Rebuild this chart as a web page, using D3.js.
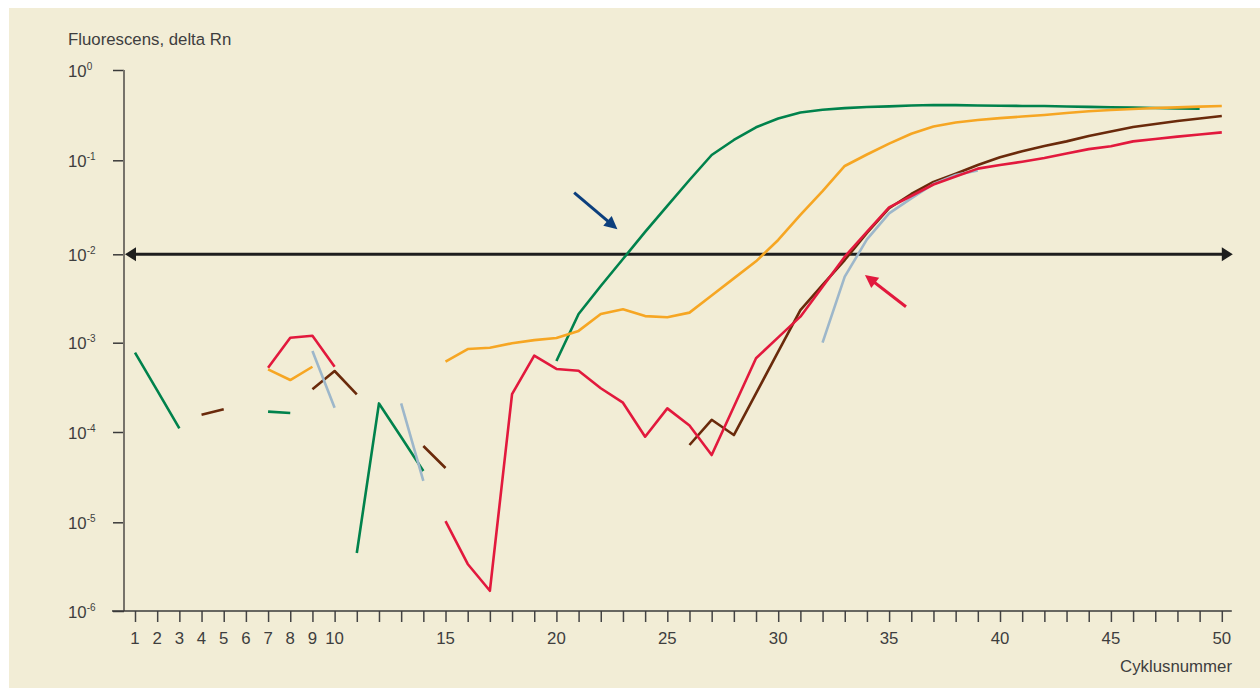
<!DOCTYPE html>
<html>
<head>
<meta charset="utf-8">
<script src="https://cdn.jsdelivr.net/npm/d3@7"></script>
<style>
  html, body { margin: 0; padding: 0; background: #ffffff; }
  svg { display: block; }
  text { font-family: "Liberation Sans", Arial, sans-serif; fill: #3e3e3e; }
</style>
</head>
<body>
<svg id="chart" width="1260" height="688"></svg>
<script>
// ---- data -------------------------------------------------------------
const cycles = d3.range(1, 51);
const xTickLabels = [1, 2, 3, 4, 5, 6, 7, 8, 9, 10, 15, 20, 25, 30, 35, 40, 45, 50];
const yTickValues = [1e-6, 1e-5, 1e-4, 1e-3, 1e-2, 1e-1, 1];
const yTickExponents = ["-6", "-5", "-4", "-3", "-2", "-1", "0"];
const thresholdValue = 1e-2;

// delta Rn per cycle (null = no reading plotted)
const greenValues = [
  7.73e-4, 2.92e-4, 1.10e-4, null, null, null, 1.69e-4, 1.63e-4, null, null,
  4.51e-6, 2.09e-4, 8.8e-5, 3.70e-5, null, null, null, null, null, 6.24e-4,
  2.11e-3, 4.38e-3, 8.85e-3, 1.73e-2, 3.27e-2, 6.17e-2, 0.1145, 0.168, 0.232, 0.290,
  0.338, 0.363, 0.378, 0.389, 0.396, 0.404, 0.410, 0.408, 0.405, 0.402,
  0.400, 0.399, 0.395, 0.391, 0.387, 0.383, 0.380, 0.376, 0.372, null
];
const orangeValues = [
  null, null, null, null, null, null, 5.03e-4, 3.82e-4, 5.38e-4, null,
  null, null, null, null, 6.12e-4, 8.50e-4, 8.79e-4, 9.85e-4, 1.07e-3, 1.13e-3,
  1.36e-3, 2.11e-3, 2.39e-3, 2.00e-3, 1.94e-3, 2.19e-3, 3.42e-3, 5.34e-3, 8.33e-3, 1.42e-2,
  2.62e-2, 4.71e-2, 8.70e-2, 0.116, 0.153, 0.197, 0.237, 0.262, 0.279, 0.293,
  0.305, 0.318, 0.334, 0.349, 0.361, 0.370, 0.380, 0.386, 0.393, 0.399
];
const redValues = [
  null, null, null, null, null, null, 5.25e-4, 1.14e-3, 1.20e-3, 5.38e-4,
  null, null, null, null, 1.03e-5, 3.39e-6, 1.69e-6, 2.66e-4, 7.15e-4, 5.08e-4,
  4.86e-4, 3.09e-4, 2.13e-4, 8.87e-5, 1.84e-4, 1.18e-4, 5.56e-5, 1.92e-4, 6.69e-4, 1.15e-3,
  1.97e-3, 4.30e-3, 9.40e-3, 1.73e-2, 3.16e-2, 4.17e-2, 5.53e-2, 6.73e-2, 8.16e-2, 8.91e-2,
  9.66e-2, 0.106, 0.119, 0.133, 0.143, 0.162, 0.172, 0.183, 0.193, 0.204
];
const brownValues = [
  null, null, null, 1.56e-4, 1.80e-4, null, null, null, 3.01e-4, 4.82e-4,
  2.64e-4, null, null, 7.00e-5, 3.99e-5, null, null, null, null, null,
  null, null, null, null, null, 7.18e-5, 1.37e-4, 9.26e-5, 2.71e-4, 7.93e-4,
  2.34e-3, 4.50e-3, 8.61e-3, 1.69e-2, 3.09e-2, 4.38e-2, 5.88e-2, 7.20e-2, 8.90e-2, 0.108,
  0.126, 0.144, 0.162, 0.186, 0.208, 0.234, 0.252, 0.272, 0.290, 0.309
];
const blueGreyValues = [
  null, null, null, null, null, null, null, null, 8.07e-4, 1.87e-4,
  null, null, 2.09e-4, 2.87e-5, null, null, null, null, null, null,
  null, null, null, null, null, null, null, null, null, null,
  null, 1.00e-3, 5.58e-3, 1.44e-2, 2.73e-2, 3.94e-2, 5.60e-2, 6.98e-2, 7.81e-2, null,
  null, null, null, null, null, null, null, null, null, null
];

// pointer arrows: [cycle, delta Rn] of tail and tip
const blueArrow = { from: [20.8, 0.0452], to: [22.75, 0.01845] };
const redArrow  = { from: [35.76, 2.55e-3], to: [33.91, 5.83e-3] };

// ---- layout -----------------------------------------------------------
const W = 1260, H = 688;
const axisX = 124;            // vertical axis position
const baseY = 611;            // horizontal axis position
const decadeRows = [611, 522.3, 432, 342.7, 254.3, 160.3, 70];

const svg = d3.select("#chart");

svg.append("rect")
  .attr("x", 9).attr("y", 8)
  .attr("width", W - 9).attr("height", H - 8)
  .attr("fill", "#f2edd6");

const x = d3.scaleLinear().domain([1, 50]).range([135, 1221.8]);
const y = d3.scaleLog().domain(yTickValues).range(decadeRows);

// ---- axes -------------------------------------------------------------
const yAxis = svg.append("g")
  .attr("transform", `translate(${axisX},0)`)
  .call(d3.axisLeft(y).tickValues(yTickValues).tickSize(11).tickFormat(""));
yAxis.select(".domain").remove();
yAxis.selectAll(".tick line").attr("stroke", "#3a3a3a").attr("stroke-width", 1.5);

svg.append("line")
  .attr("x1", axisX).attr("x2", axisX)
  .attr("y1", y(1)).attr("y2", baseY)
  .attr("stroke", "#77736a").attr("stroke-width", 2);

const xAxis = svg.append("g")
  .attr("transform", `translate(0,${baseY})`)
  .call(d3.axisBottom(x).tickValues(cycles).tickSize(11).tickFormat(""));
xAxis.select(".domain").remove();
xAxis.selectAll(".tick line").attr("stroke", "#444").attr("stroke-width", 1.5);

svg.append("line")
  .attr("x1", axisX - 12).attr("x2", x(50) + 10)
  .attr("y1", baseY).attr("y2", baseY)
  .attr("stroke", "#3a3a3a").attr("stroke-width", 1.6);

// y tick labels 10^n
const yLab = svg.append("g").selectAll("text")
  .data(yTickValues)
  .join("text")
  .attr("x", 68)
  .attr("y", d => y(d) + 6.5)
  .attr("font-size", 16.8);
yLab.append("tspan").text("10");
yLab.append("tspan")
  .attr("dy", -7)
  .attr("font-size", 10)
  .text((d, i) => yTickExponents[i]);

// x tick labels
svg.append("g").selectAll("text")
  .data(xTickLabels)
  .join("text")
  .attr("x", d => x(d))
  .attr("y", 643.5)
  .attr("text-anchor", "middle")
  .attr("font-size", 16.8)
  .text(d => d);

svg.append("text")
  .attr("x", 68).attr("y", 45)
  .attr("font-size", 16.8)
  .text("Fluorescens, delta Rn");

svg.append("text")
  .attr("x", 1232).attr("y", 671.5)
  .attr("text-anchor", "end")
  .attr("font-size", 16.8)
  .text("Cyklusnummer");

// ---- threshold line with arrowheads at both ends ----------------------
const ty = y(thresholdValue);
const tLeft = axisX + 1, tRight = x(50) + 11;
const thr = svg.append("g").attr("fill", "#1e1e1e");
thr.append("line")
  .attr("x1", tLeft + 8).attr("x2", tRight - 8)
  .attr("y1", ty).attr("y2", ty)
  .attr("stroke", "#1e1e1e").attr("stroke-width", 3);
thr.append("path")
  .attr("d", `M${tLeft},${ty} L${tLeft + 11},${ty - 7} L${tLeft + 11},${ty + 7} Z`);
thr.append("path")
  .attr("d", `M${tRight},${ty} L${tRight - 11},${ty - 7} L${tRight - 11},${ty + 7} Z`);

// ---- curves -----------------------------------------------------------
const series = [
  { values: greenValues,    color: "#00824c" },
  { values: orangeValues,   color: "#f6a623" },
  { values: brownValues,    color: "#6a2a0b" },
  { values: blueGreyValues, color: "#9db7ca" },
  { values: redValues,      color: "#e2193d" }
];

const line = d3.line()
  .defined(d => d[1] != null)
  .x(d => x(d[0]))
  .y(d => y(d[1]));

svg.append("g").selectAll("path")
  .data(series)
  .join("path")
  .attr("d", s => line(cycles.map((c, i) => [c, s.values[i]])))
  .attr("fill", "none")
  .attr("stroke", s => s.color)
  .attr("stroke-width", 2.6)
  .attr("stroke-linejoin", "round")
  .attr("stroke-linecap", "butt");

// ---- pointer arrows ---------------------------------------------------
function drawArrow(a, color) {
  const x0 = x(a.from[0]), y0 = y(a.from[1]);
  const x1 = x(a.to[0]),   y1 = y(a.to[1]);
  const dx = x1 - x0, dy = y1 - y0, len = Math.hypot(dx, dy);
  const ux = dx / len, uy = dy / len;
  const headLen = 13, headHalf = 6.5;
  const bx = x1 - ux * headLen, by = y1 - uy * headLen;
  svg.append("line")
    .attr("x1", x0).attr("y1", y0)
    .attr("x2", bx + ux * 2).attr("y2", by + uy * 2)
    .attr("stroke", color).attr("stroke-width", 3);
  svg.append("path")
    .attr("d", `M${x1},${y1} L${bx - uy * headHalf},${by + ux * headHalf} L${bx + uy * headHalf},${by - ux * headHalf} Z`)
    .attr("fill", color);
}
drawArrow(blueArrow, "#0c3f7d");
drawArrow(redArrow, "#e2193d");
</script>
</body>
</html>
